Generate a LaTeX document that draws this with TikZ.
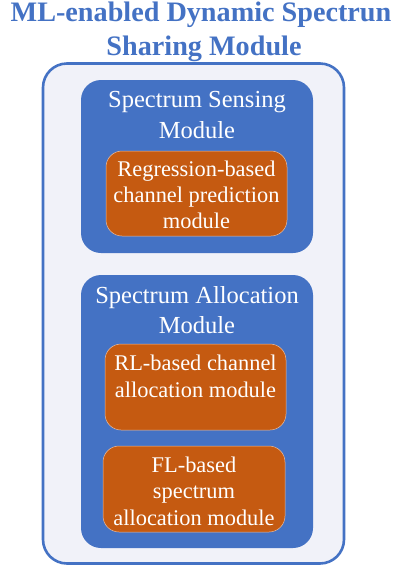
\documentclass[tikz,border=0pt]{standalone}
\usepackage{fontspec}
\setmainfont{Liberation Serif}
\definecolor{mblue}{HTML}{4472C4}
\definecolor{morange}{HTML}{C55A11}
\definecolor{mbg}{HTML}{F1F2F9}
\begin{document}
\begin{tikzpicture}[x=1pt,y=-1pt,
  outerbox/.style={draw=mblue,line width=2.6pt,fill=mbg,rounded corners=24pt,inner sep=0pt},
  bluebox/.style={fill=mblue,rounded corners=20pt,inner sep=0pt},
  orangebox/.style={fill=morange,draw=white!60!morange,line width=0.5pt,rounded corners=16pt,inner sep=0pt},
  ttl/.style={font=\fontsize{28.2}{34}\selectfont\bfseries,text=mblue,anchor=base,inner sep=0pt},
  btxt/.style={font=\fontsize{24.5}{30}\selectfont,text=white,anchor=base,inner sep=0pt},
  otxt/.style={font=\fontsize{22.4}{27}\selectfont,text=white,anchor=base,inner sep=0pt}]
\useasboundingbox (0,0) rectangle (402,566);
\node[ttl] (t1) at (201,21) {ML-enabled Dynamic Spectrun};
\node[ttl] (t2) at (204,55) {Sharing Module};
\node[outerbox,minimum width=301pt,minimum height=500pt] (outer) at (193.5,313.5) {};
\node[bluebox,minimum width=232pt,minimum height=173pt] (sense) at (197,166.5) {};
\node[btxt] (s1) at (197,107) {Spectrum Sensing};
\node[btxt] (s2) at (197,138) {Module};
\node[orangebox,minimum width=181pt,minimum height=85pt] (reg) at (196.5,193.5) {};
\node[otxt] (r1) at (196.5,176) {Regression-based};
\node[otxt] (r2) at (196.5,202) {channel prediction};
\node[otxt] (r3) at (196.5,228) {module};
\node[bluebox,minimum width=232pt,minimum height=273pt] (alloc) at (197,411.5) {};
\node[btxt] (a1) at (197,303) {Spectrum Allocation};
\node[btxt] (a2) at (197,333) {Module};
\node[orangebox,minimum width=181pt,minimum height=86pt] (rl) at (195.5,387) {};
\node[otxt] (l1) at (195.5,370) {RL-based channel};
\node[otxt] (l2) at (195.5,397) {allocation module};
\node[orangebox,minimum width=182pt,minimum height=86pt] (fl) at (194,489) {};
\node[otxt] (f1) at (194,472) {FL-based};
\node[otxt] (f2) at (194,498) {spectrum};
\node[otxt] (f3) at (194,525) {allocation module};
\end{tikzpicture}
\end{document}
